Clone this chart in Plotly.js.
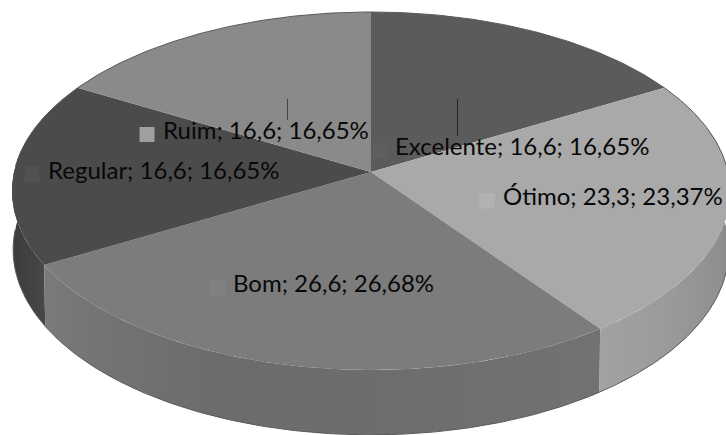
<!DOCTYPE html>
<html>
<head>
<meta charset="utf-8">
<script src="https://cdn.plot.ly/plotly-3.0.1.min.js"></script>
<style>html,body{margin:0;padding:0;background:#fff}#chart{width:726px;height:435px}</style>
</head>
<body>
<div id="chart"></div>
<script>
// Survey ratings, clockwise from twelve o'clock
const categories = ['Excelente', 'Ótimo', 'Bom', 'Regular', 'Ruim'];
const values = [16.6, 23.3, 26.6, 16.6, 16.6];
const percents = ['16,65%', '23,37%', '26,68%', '16,65%', '16,65%'];
const valueLabels = ['16,6', '23,3', '26,6', '16,6', '16,6'];

// Slice colours for the top face and for the key squares
const topColors = ['#5b5b5b', '#a9a9a9', '#7c7c7c', '#4b4b4b', '#8a8a8a'];
const keyColors = ['#5f5f5f', '#b2b2b2', '#818181', '#515151', '#a0a0a0'];

// Perspective disc, in plot units (the axes run one unit per pixel)
const disc = {cx: 371, cy: 172, rx: 357, sy: 177, tilt: 0.106, depth: 58, baseShrink: 0.997};

function projectTop(deg) {
  const t = deg * Math.PI / 180, u = Math.sin(t), v = Math.cos(t), w = 1 + disc.tilt * v;
  return [disc.cx + disc.rx * u / w, disc.cy - disc.sy * v / w];
}
function projectBase(deg) {
  const t = deg * Math.PI / 180, v = Math.cos(t), w = 1 + disc.tilt * v, p = projectTop(deg);
  return [disc.cx + (p[0] - disc.cx) * disc.baseShrink, p[1] + disc.depth / w];
}
function arc(fn, from, to) {
  const n = Math.max(2, Math.ceil(Math.abs(to - from) * 2)), pts = [];
  for (let i = 0; i <= n; i++) pts.push(fn(from + (to - from) * i / n));
  return pts;
}

const total = values.reduce((a, b) => a + b, 0);
const bounds = [0];
values.forEach((v, i) => bounds.push(bounds[i] + v / total * 360));

function polygon(pts, extra) {
  return Object.assign({
    type: 'scatter', mode: 'lines', fill: 'toself', hoverinfo: 'skip', showlegend: false,
    x: pts.map(p => p[0]), y: pts.map(p => p[1]), line: {width: 0}
  }, extra);
}
function wall(from, to, stops) {
  const pts = arc(projectTop, from, to).concat(arc(projectBase, to, from));
  pts.push(pts[0]);
  return polygon(pts, {fillcolor: stops[0][1], fillgradient: {type: 'horizontal', colorscale: stops}});
}

const traces = [];

// Side walls: only the front-facing slices show
traces.push(wall(bounds[3], 290, [[0, '#3c3c3c'], [0.6, '#434343'], [1, '#4a4a4a']]));
traces.push(wall(bounds[2], bounds[3], [
  [0, '#7a7a7a'], [0.1, '#747474'], [0.3, '#6c6c6c'], [0.6, '#6d6d6d'], [1, '#727272']
]));
traces.push(wall(75, bounds[2], [
  [0, '#a2a2a2'], [0.55, '#9a9a9a'], [0.93, '#8f8f8f'], [0.975, '#8a8a8a'], [1, '#5e5e5e']
]));

// Top faces
values.forEach((v, i) => {
  const pts = [[disc.cx, disc.cy]].concat(arc(projectTop, bounds[i], bounds[i + 1]));
  pts.push(pts[0]);
  traces.push(polygon(pts, {fillcolor: topColors[i]}));
});

// Thin dark rim along the silhouette
const rimBack = arc(projectTop, 272, 448);
const rimFront = arc(projectBase, 90, 270);
[rimBack, rimFront].forEach(pts => traces.push({
  type: 'scatter', mode: 'lines', hoverinfo: 'skip', showlegend: false,
  x: pts.map(p => p[0]), y: pts.map(p => p[1]), line: {color: '#5a5a5a', width: 1}
}));

// Key squares beside each label
const keyX = [380, 487, 217.5, 32, 147];
const keyY = [150.5, 201, 288, 174.5, 134.5];
traces.push({
  type: 'scatter', mode: 'markers', hoverinfo: 'skip', showlegend: false,
  x: keyX, y: keyY,
  marker: {symbol: 'square', size: 15, color: keyColors, line: {width: 0}}
});

// Data labels
const labelX = [393, 501, 231, 46, 161];
const labelY = [145.5, 195.5, 282, 169.5, 129.5];
const annotations = categories.map((c, i) => ({
  x: labelX[i], y: labelY[i], xref: 'x', yref: 'y', xanchor: 'left', yanchor: 'middle',
  showarrow: false, align: 'left',
  text: c + '; ' + valueLabels[i] + '; ' + percents[i],
  font: {family: 'Lato, "Open Sans", sans-serif', size: 24, color: '#080808'}
}));

// Leader lines above the Ruim and Excelente labels
const leaderX = [287.5, 457.5];
const leaderTop = [99, 99];
const leaderEnd = [120, 136];
const leaderColors = ['#444444', '#222222'];
const shapes = leaderX.map((x, i) => ({
  type: 'line', xref: 'x', yref: 'y', x0: x, x1: x, y0: leaderTop[i], y1: leaderEnd[i],
  line: {color: leaderColors[i], width: 1}
}));

Plotly.newPlot('chart', traces, {
  width: 726, height: 435,
  margin: {l: 0, r: 0, t: 0, b: 0},
  paper_bgcolor: '#ffffff', plot_bgcolor: '#ffffff',
  xaxis: {range: [0, 726], visible: false, fixedrange: true},
  yaxis: {range: [435, 0], visible: false, fixedrange: true},
  showlegend: false, annotations, shapes
}, {displayModeBar: false, staticPlot: true});
</script>
</body>
</html>
